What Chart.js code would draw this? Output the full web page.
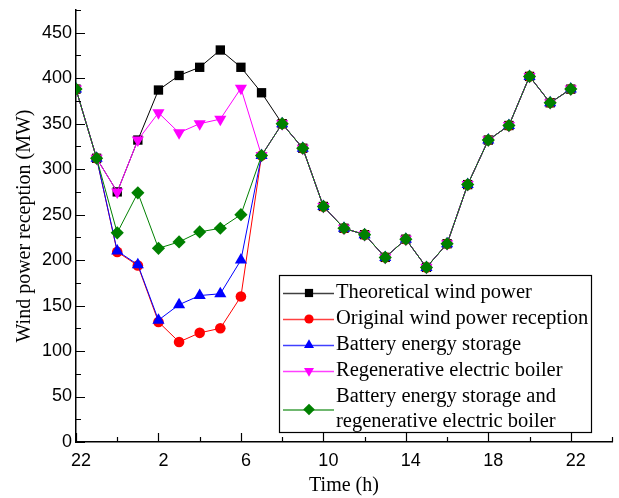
<!DOCTYPE html>
<html>
<head>
<meta charset="utf-8">
<script src="https://cdn.jsdelivr.net/npm/chart.js@4/dist/chart.umd.min.js"></script>
<style>
  html, body { margin: 0; padding: 0; background: #fff; }
  #wrap { width: 619px; height: 498px; }
</style>
</head>
<body>
<div id="wrap"><canvas id="chart" width="619" height="498"></canvas></div>
<script>
// wind power reception, 22h -> 22h next day (MW)
const hours = [22, 23, 0, 1, 2, 3, 4, 5, 6, 7, 8, 9, 10, 11, 12, 13, 14, 15, 16, 17, 18, 19, 20, 21, 22];
const theoretical = [388, 312, 275, 332, 387, 403, 412, 431, 412, 384, 350, 323, 259, 235, 228, 203, 223, 192, 218, 283, 332, 348, 402, 373, 388];
const original    = [388, 312, 209, 194, 132, 110, 120, 125, 160, 315, 350, 323, 259, 235, 228, 203, 223, 192, 218, 283, 332, 348, 402, 373, 388];
const battery     = [388, 312, 210, 195, 134, 151, 161, 163, 200, 315, 350, 323, 259, 235, 228, 203, 223, 192, 218, 283, 332, 348, 402, 373, 388];
const boiler      = [388, 312, 275, 332, 362, 340, 350, 355, 389, 315, 350, 323, 259, 235, 228, 203, 223, 192, 218, 283, 332, 348, 402, 373, 388];
const combined    = [388, 312, 230, 274, 213, 220, 231, 235, 250, 315, 350, 323, 259, 235, 228, 203, 223, 192, 218, 283, 332, 348, 402, 373, 388];
const yTicks = [0, 50, 100, 150, 200, 250, 300, 350, 400, 450];

const pts = vals => vals.map((v, i) => ({ x: i, y: v }));

function series(label, vals, color, style, radius, order, rotation = 0) {
  return {
    label, data: pts(vals), order,
    borderColor: color, backgroundColor: color, borderWidth: 1,
    pointStyle: style, pointRadius: radius, pointRotation: rotation,
    pointBorderWidth: 0, pointBackgroundColor: color, tension: 0,
  };
}

const datasets = [
  series('Theoretical wind power', theoretical, '#000000', 'rect', 6.6, 5),
  series('Original wind power reception', original, '#ff0000', 'circle', 5.3, 4),
  series('Battery energy storage', battery, '#0000ff', 'triangle', 7, 3),
  series('Regenerative electric boiler', boiler, '#ff00ff', 'triangle', 7, 2, 180),
  series(['Battery energy storage and', 'regenerative electric boiler'], combined, '#008000', 'rectRot', 6.6, 1),
];

// inward ticks: long on labelled values, short between
const axisTicks = {
  id: 'axisTicks',
  afterDraw(chart) {
    const { ctx, scales: { x, y }, chartArea: a } = chart;
    ctx.save();
    ctx.strokeStyle = '#000';
    ctx.lineWidth = 1.2;
    ctx.beginPath();
    x.ticks.forEach(t => {
      const px = Math.round(x.getPixelForValue(t.value)) + 0.5;
      const len = t.value % 4 === 0 ? 9 : 5;
      ctx.moveTo(px, a.bottom); ctx.lineTo(px, a.bottom - len);
    });
    y.ticks.forEach(t => {
      const py = Math.round(y.getPixelForValue(t.value)) + 0.5;
      const len = yTicks.includes(t.value) ? 9 : 5;
      ctx.moveTo(a.left, py); ctx.lineTo(a.left + len, py);
    });
    ctx.stroke();
    ctx.restore();
  }
};

function marker(ctx, ds, x, y, r) {
  ctx.fillStyle = ds.pointBackgroundColor;
  ctx.strokeStyle = ds.borderColor;
  if (Chart.helpers && Chart.helpers.drawPoint) {
    Chart.helpers.drawPoint(ctx, { pointStyle: ds.pointStyle, rotation: ds.pointRotation, radius: r, borderWidth: 0 }, x, y);
  }
}

// boxed legend inside the plot, lower right
const boxLegend = {
  id: 'boxLegend',
  afterDraw(chart) {
    const ctx = chart.ctx;
    const box = { l: 279, t: 275, w: 312, h: 157 };
    ctx.save();
    ctx.fillStyle = '#fff';
    ctx.fillRect(box.l, box.t, box.w, box.h);
    ctx.strokeStyle = '#000';
    ctx.lineWidth = 1.2;
    ctx.strokeRect(box.l + 0.5, box.t + 0.5, box.w, box.h);
    ctx.font = '20.5px "Liberation Serif", "Times New Roman", serif';
    ctx.textBaseline = 'middle';
    ctx.textAlign = 'left';
    let rowY = 293;
    chart.data.datasets.forEach(ds => {
      const lines = Array.isArray(ds.label) ? ds.label : [ds.label];
      const my = rowY + (lines.length - 1) * 12.5;
      ctx.strokeStyle = ds.borderColor;
      ctx.lineWidth = 1.3;
      ctx.globalAlpha = 0.75;
      ctx.beginPath();
      ctx.moveTo(283, my + 0.5); ctx.lineTo(334, my + 0.5);
      ctx.stroke();
      ctx.globalAlpha = 1;
      marker(ctx, ds, 309, my, ds.pointStyle === 'circle' ? 4.6 : 5.8);
      ctx.fillStyle = '#000';
      lines.forEach((ln, k) => ctx.fillText(ln, 336, rowY + k * 25));
      rowY += 26 + (lines.length - 1) * 25;
    });
    ctx.restore();
  }
};

Chart.defaults.font.family = '"Liberation Sans", Arial, sans-serif';
Chart.defaults.color = '#000';

new Chart(document.getElementById('chart'), {
  type: 'line',
  data: { datasets },
  plugins: [axisTicks, boxLegend],
  options: {
    responsive: false,
    animation: false,
    layout: { padding: { top: 10, right: 6, left: 0, bottom: 0 } },
    plugins: { legend: { display: false }, tooltip: { enabled: false } },
    scales: {
      x: {
        type: 'linear', min: 0, max: 26,
        grid: { display: false, drawTicks: false },
        border: { color: '#000', width: 1.5 },
        ticks: {
          stepSize: 2, autoSkip: false, maxRotation: 0, padding: 8, labelOffset: 5,
          font: { size: 18 }, color: '#000',
          callback: v => (v % 4 === 0 && v < hours.length) ? String(hours[v]) : '',
        },
        title: {
          display: true, text: 'Time (h)', color: '#000',
          font: { family: '"Liberation Serif", "Times New Roman", serif', size: 20 },
          padding: { top: 0, bottom: 0 },
        },
        afterFit: s => { s.height = 56; s.paddingLeft = 0; s.paddingRight = 0; },
      },
      y: {
        min: 0, max: 475,
        grid: { display: false, drawTicks: false },
        border: { color: '#000', width: 1.5 },
        ticks: {
          stepSize: 25, autoSkip: false, padding: 4,
          font: { size: 18 }, color: '#000',
          callback: v => yTicks.includes(v) ? String(v) : '',
        },
        title: {
          display: true, text: 'Wind power reception (MW)', color: '#000',
          font: { family: '"Liberation Serif", "Times New Roman", serif', size: 20 },
          padding: { top: 13, bottom: 0 },
        },
        afterFit: s => { s.width = 76; s.paddingTop = 0; s.paddingBottom = 0; },
      },
    },
  },
});
</script>
</body>
</html>
